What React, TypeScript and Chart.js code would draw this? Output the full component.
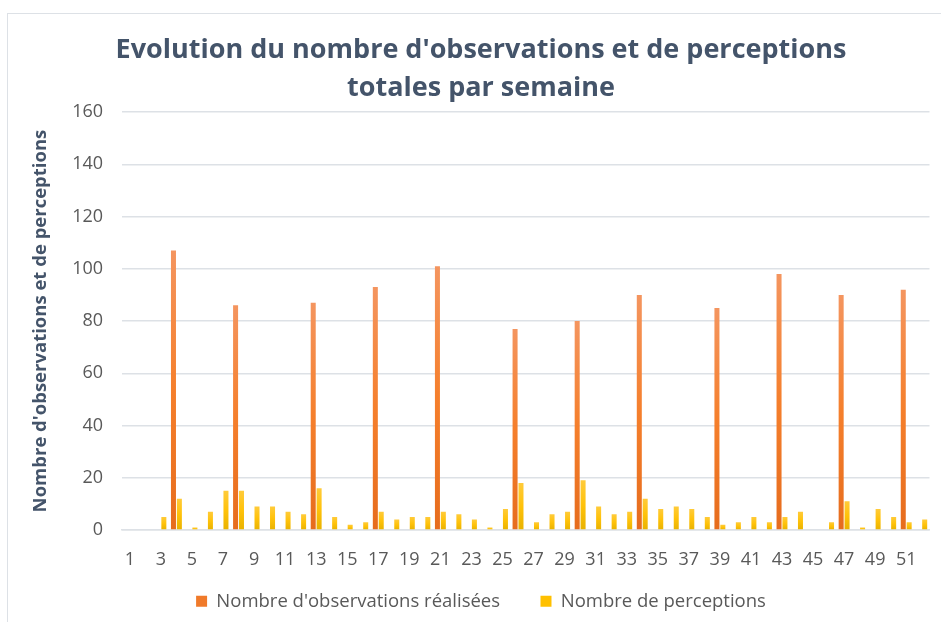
import React, { useEffect, useRef } from "react";
import { Chart, registerables } from "chart.js";

Chart.register(...registerables);

const weeks = [
  "1", "2", "3", "4", "5", "6", "7", "8", "9", "10",
  "11", "12", "13", "14", "15", "16", "17", "18", "19", "20",
  "21", "22", "23", "24", "25", "26", "27", "28", "29", "30",
  "31", "32", "33", "34", "35", "36", "37", "38", "39", "40",
  "41", "42", "43", "44", "45", "46", "47", "48", "49", "50",
  "51", "52",
];

const observations = [
  0, 0, 0, 107, 0, 0, 0, 86, 0, 0,
  0, 0, 87, 0, 0, 0, 93, 0, 0, 0,
  101, 0, 0, 0, 0, 77, 0, 0, 0, 80,
  0, 0, 0, 90, 0, 0, 0, 0, 85, 0,
  0, 0, 98, 0, 0, 0, 90, 0, 0, 0,
  92, 0,
];

const perceptions = [
  0, 0, 5, 12, 1, 7, 15, 15, 9, 9,
  7, 6, 16, 5, 2, 3, 7, 4, 5, 5,
  7, 6, 4, 1, 8, 18, 3, 6, 7, 19,
  9, 6, 7, 12, 8, 9, 8, 5, 2, 3,
  5, 3, 5, 7, 0, 3, 11, 1, 8, 5,
  3, 4,
];

const yTicks = [0, 20, 40, 60, 80, 100, 120, 140, 160];

const TITLE = ["Evolution du nombre d'observations et de perceptions", "totales par semaine"];
const LABEL_OBS = "Nombre d'observations réalisées";
const LABEL_PERC = "Nombre de perceptions";
const Y_TITLE = "Nombre d'observations et de perceptions";

const FONT = "'Open Sans', 'Noto Sans', sans-serif";
const TEXT = "#595959";
const TITLE_COLOR = "#44546A";
const GRID = "#dde1e6";

function barGradient(top: string, bottom: string, solid: string) {
  return (ctx: any) => {
    const chart = ctx.chart;
    const y = chart.scales && chart.scales.y;
    if (!y || !chart.chartArea || ctx.type !== "data") return solid;
    const v = ctx.raw ?? 0;
    const y0 = y.getPixelForValue(0);
    const y1 = y.getPixelForValue(v);
    if (!isFinite(y0) || !isFinite(y1) || Math.abs(y0 - y1) < 1) return solid;
    const g = chart.ctx.createLinearGradient(0, y1, 0, y0);
    g.addColorStop(0, top);
    g.addColorStop(0.5, solid);
    g.addColorStop(1, bottom);
    return g;
  };
}

export default function App() {
  const ref = useRef<HTMLCanvasElement | null>(null);

  useEffect(() => {
    if (!ref.current) return;
    const chart = new Chart(ref.current, {
      type: "bar",
      data: {
        labels: weeks,
        datasets: [
          {
            label: LABEL_OBS,
            data: observations,
            backgroundColor: barGradient("#f4955f", "#e66c1d", "#f57f2c"),
            borderWidth: 0,
            categoryPercentage: 0.76,
            barPercentage: 0.85,
          },
          {
            label: LABEL_PERC,
            data: perceptions,
            backgroundColor: barGradient("#ffcb3a", "#e8b200", "#ffc20a"),
            borderWidth: 0,
            categoryPercentage: 0.76,
            barPercentage: 0.85,
          },
        ],
      },
      options: {
        animation: false,
        responsive: false,
        maintainAspectRatio: false,
        layout: { padding: { left: 27, right: 6, top: 0, bottom: 1.5 } },
        plugins: {
          tooltip: { enabled: false },
          title: {
            display: true,
            text: TITLE,
            color: TITLE_COLOR,
            font: { family: FONT, size: 27, weight: "bold", lineHeight: 1.42 },
            padding: { top: 31, bottom: 4.4 },
          },
          legend: {
            display: true,
            position: "bottom",
            labels: {
              color: TEXT,
              font: { family: FONT, size: 18.5 },
              boxWidth: 11,
              boxHeight: 11,
              padding: 2,
              generateLabels: (c: any) => {
                const items = Chart.defaults.plugins.legend.labels.generateLabels(c);
                const solids = ["#f07a2a", "#ffc000"];
                return items.map((it: any, i: number) => ({
                  ...it,
                  text: i === 0 ? it.text + "\u00a0".repeat(8) : it.text,
                  fillStyle: solids[i],
                  strokeStyle: solids[i],
                  lineWidth: 0,
                }));
              },
            },
          },
        },
        scales: {
          x: {
            grid: { display: false, drawTicks: false },
            border: { display: true, color: GRID, width: 1.5 },
            ticks: {
              autoSkip: false,
              maxRotation: 0,
              minRotation: 0,
              padding: 19.2,
              color: TEXT,
              font: { family: FONT, size: 18 },
              callback: (_v: any, i: number) => (i % 2 === 0 ? weeks[i] : ""),
            },
          },
          y: {
            min: yTicks[0],
            max: yTicks[yTicks.length - 1],
            afterBuildTicks: (s: any) => {
              s.ticks = yTicks.map((v) => ({ value: v }));
            },
            grid: { color: GRID, lineWidth: 1.5, drawTicks: false },
            border: { display: false },
            ticks: {
              padding: 19,
              color: TEXT,
              font: { family: FONT, size: 18 },
            },
            title: {
              display: true,
              text: Y_TITLE,
              color: TITLE_COLOR,
              font: { family: FONT, size: 18.5, weight: "bold" },
              padding: { top: 3, bottom: 1 },
            },
          },
        },
      },
    });
    return () => chart.destroy();
  }, []);

  return (
    <div
      style={{
        position: "absolute",
        left: 0,
        top: 0,
        width: 941,
        height: 622,
        overflow: "hidden",
        background: "#ffffff",
      }}
    >
      <div
        style={{
          position: "absolute",
          left: 7,
          top: 13,
          width: 1000,
          height: 700,
          border: "1.5px solid #dde1e6",
          boxSizing: "border-box",
        }}
      />
      <canvas
        ref={ref}
        width={941}
        height={622}
        style={{ position: "absolute", left: 0, top: 0, width: 941, height: 622 }}
      />
    </div>
  );
}
